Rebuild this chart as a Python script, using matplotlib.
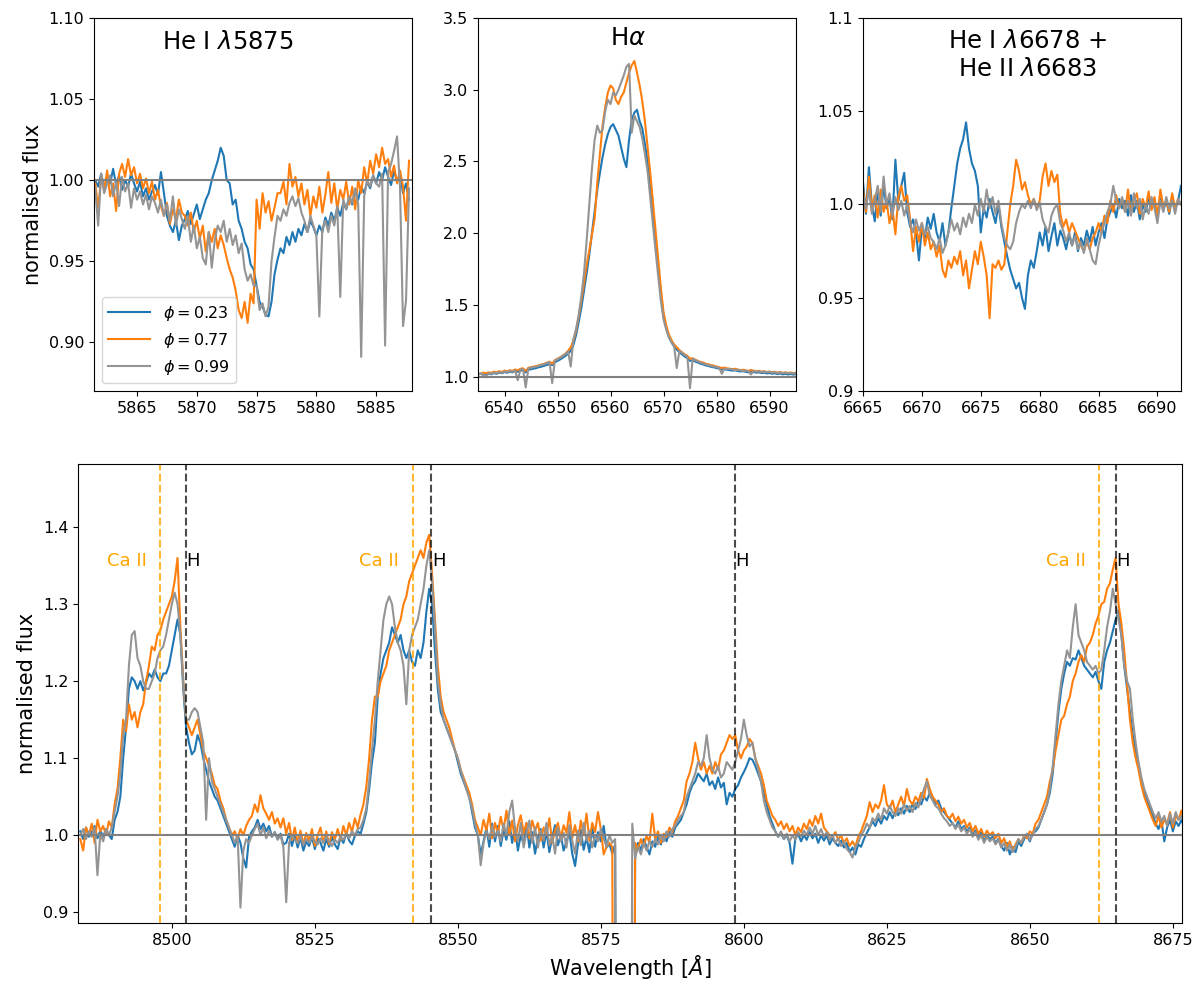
import numpy as np
from matplotlib import pyplot as plt

# colours of the three phases
cols = ['#1f77b4', '#ff7f0e', '#949494']
phases = ['$\\phi = 0.23$', '$\\phi = 0.77$', '$\\phi = 0.99$']

#%% He I 5875, grid 5861.5 + 0.25*i
he1_start, he1_step = 5861.5, 0.25
he1_b = [1.000, 0.996, 1.004, 0.995, 1.002, 0.998, 1.007, 0.997, 1.003, 0.994, 1.000, 0.996, 1.004, 0.998,
         0.993, 0.999, 0.990, 0.995, 0.988, 0.993, 0.997, 0.991,
         1.005, 0.992, 0.978, 0.972, 0.968, 0.975, 0.963, 0.972,
         0.976, 0.981, 0.973, 0.979, 0.985, 0.976, 0.982, 0.988,
         0.992, 1.000, 1.006, 1.012, 1.020, 1.015, 1.000, 0.998,
         0.985, 0.988, 0.975, 0.970, 0.962, 0.958, 0.948, 0.945,
         0.935, 0.925, 0.922, 0.917, 0.916, 0.925, 0.942, 0.951,
         0.958, 0.955, 0.965, 0.960, 0.968, 0.962, 0.970, 0.966,
         0.973, 0.968, 0.975, 0.971, 0.966, 0.972, 0.968, 0.977,
         0.972, 0.980, 0.975, 0.983, 0.978, 0.986, 0.982, 0.990,
         0.985, 0.993, 0.988, 0.996, 0.992, 0.999, 0.995, 1.003,
         0.998, 1.005, 1.000, 1.008, 1.002, 0.997, 1.006, 0.999,
         1.004, 0.992, 0.998, 0.988]
he1_o = [0.998, 0.983, 1.002, 0.994, 1.006, 0.990, 0.998, 0.981, 1.004, 1.010, 1.002, 1.013, 1.003, 1.008,
         0.998, 1.004, 0.995, 1.001, 0.992, 0.999, 0.988, 0.994,
         0.984, 0.978, 0.986, 0.973, 0.982, 0.976, 0.988, 0.980,
         0.978, 0.972, 0.980, 0.968, 0.975, 0.964, 0.972, 0.956,
         0.968, 0.962, 0.970, 0.958, 0.966, 0.960, 0.952, 0.945,
         0.940, 0.932, 0.920, 0.915, 0.925, 0.912, 0.930, 0.924,
         0.988, 0.970, 0.992, 0.980, 0.987, 0.975, 0.983, 0.992,
         0.992, 0.999, 0.985, 1.010, 0.996, 1.002, 0.990, 0.998,
         0.985, 0.994, 0.978, 0.990, 0.983, 0.996, 0.980, 0.991,
         1.005, 0.986, 0.998, 0.982, 0.994, 0.988, 0.999, 0.985,
         0.996, 0.982, 1.000, 0.992, 1.008, 0.998, 1.012, 1.004,
         1.016, 1.008, 1.020, 1.010, 1.013, 1.002, 1.009, 0.998,
         1.006, 0.996, 0.975, 1.012]
he1_g = [0.995, 0.972, 1.004, 0.992, 0.998, 1.003, 0.990, 0.999, 0.984, 1.002, 0.993, 0.998, 0.983, 0.995,
         0.988, 0.993, 0.985, 0.991, 0.982, 0.990, 0.986, 0.980,
         0.988, 0.978, 0.985, 0.975, 0.990, 0.972, 0.982, 0.976,
         0.970, 0.978, 0.962, 0.972, 0.958, 0.965, 0.952, 0.948,
         0.968, 0.946, 0.963, 0.972, 0.968, 0.975, 0.962, 0.970,
         0.960, 0.966, 0.955, 0.961, 0.945, 0.938, 0.942, 0.935,
         0.935, 0.920, 0.924, 0.916, 0.922, 0.950, 0.965, 0.978,
         0.975, 0.982, 0.978, 0.986, 0.990, 0.984, 0.989, 0.980,
         0.975, 0.968, 0.978, 0.972, 0.966, 0.916, 0.970, 0.975,
         0.968, 0.978, 0.972, 0.984, 0.928, 0.988, 0.982, 0.990,
         0.986, 0.995, 0.985, 0.891, 0.990, 1.000, 0.996, 1.003,
         0.998, 0.996, 1.004, 0.898, 1.005, 1.010, 1.018, 1.027,
         0.995, 0.910, 0.926, 0.995]

#%% H alpha, grid 6535 + 0.5*i
ha_start, ha_step = 6535.0, 0.5
ha_b = [1.015, 1.020, 1.012, 1.018, 1.022, 1.016, 1.025, 1.020, 1.028, 1.024,
        1.032, 1.027, 1.035, 1.030, 1.040, 1.034, 1.042, 1.045, 1.030, 1.048,
        1.052, 1.056, 1.060, 1.066, 1.070, 1.076, 1.082, 1.088, 1.080, 1.100,
        1.110, 1.120, 1.132, 1.145, 1.160, 1.180, 1.220, 1.290, 1.380, 1.480,
        1.600, 1.720, 1.850, 2.000, 2.150, 2.300, 2.420, 2.530, 2.620, 2.690,
        2.740, 2.760, 2.720, 2.680, 2.600, 2.520, 2.460, 2.650, 2.790, 2.840,
        2.860, 2.780, 2.730, 2.620, 2.500, 2.310, 2.110, 1.930, 1.760, 1.580,
        1.420, 1.340, 1.280, 1.240, 1.210, 1.190, 1.170, 1.155, 1.140, 1.130,
        1.110, 1.115, 1.105, 1.098, 1.090, 1.085, 1.078, 1.074, 1.068, 1.065,
        1.060, 1.056, 1.050, 1.052, 1.048, 1.045, 1.042, 1.044, 1.040, 1.036,
        1.038, 1.034, 1.030, 1.036, 1.032, 1.028, 1.030, 1.025, 1.028, 1.022,
        1.026, 1.020, 1.024, 1.018, 1.022, 1.016, 1.020, 1.015, 1.019, 1.014,
        1.018]
ha_o = [1.022, 1.018, 1.028, 1.024, 1.030, 1.026, 1.035, 1.030, 1.038, 1.033,
        1.042, 1.036, 1.045, 1.040, 1.050, 1.044, 1.055, 1.058, 1.040, 1.062,
        1.066, 1.070, 1.074, 1.080, 1.085, 1.090, 1.097, 1.104, 1.090, 1.115,
        1.125, 1.135, 1.148, 1.160, 1.180, 1.205, 1.250, 1.320, 1.420, 1.530,
        1.650, 1.780, 1.880, 1.990, 2.100, 2.350, 2.550, 2.750, 2.880, 2.980,
        3.030, 3.010, 2.930, 2.900, 2.950, 2.980, 3.050, 3.120, 3.170, 3.200,
        3.120, 3.030, 2.920, 2.780, 2.600, 2.420, 2.220, 2.020, 1.820, 1.620,
        1.450, 1.360, 1.295, 1.255, 1.225, 1.205, 1.185, 1.170, 1.155, 1.145,
        1.125, 1.128, 1.118, 1.110, 1.102, 1.098, 1.090, 1.086, 1.080, 1.076,
        1.070, 1.066, 1.060, 1.063, 1.058, 1.055, 1.052, 1.055, 1.050, 1.046,
        1.048, 1.044, 1.040, 1.046, 1.042, 1.038, 1.040, 1.035, 1.038, 1.032,
        1.036, 1.030, 1.034, 1.028, 1.032, 1.026, 1.030, 1.025, 1.029, 1.024,
        1.028]
ha_g = [1.018, 1.022, 1.016, 0.995, 1.025, 1.019, 1.028, 1.023, 1.031, 1.027,
        1.036, 1.030, 1.040, 1.034, 1.044, 0.975, 1.050, 1.052, 0.925, 1.058,
        1.062, 1.066, 1.070, 1.076, 1.082, 1.087, 1.094, 1.100, 0.955, 1.112,
        1.122, 1.132, 1.145, 1.158, 1.175, 1.070, 1.260, 1.330, 1.430, 1.560,
        1.720, 1.950, 2.200, 2.450, 2.650, 2.750, 2.700, 2.720, 2.850, 2.930,
        2.900, 2.980, 2.960, 3.000, 3.050, 3.100, 3.160, 3.180, 2.700, 2.820,
        2.780, 2.740, 2.660, 2.550, 2.430, 2.250, 2.060, 1.880, 1.700, 1.530,
        1.400, 1.330, 1.275, 1.240, 1.215, 1.060, 1.180, 1.165, 1.150, 1.138,
        0.920, 1.125, 1.115, 1.106, 1.098, 1.092, 1.085, 1.080, 1.074, 1.070,
        1.066, 1.062, 1.020, 1.056, 1.052, 1.054, 1.050, 1.046, 1.048, 1.044,
        1.040, 1.042, 1.038, 1.015, 1.040, 1.034, 1.037, 1.032, 1.035, 1.030,
        1.033, 1.028, 1.031, 1.026, 1.029, 1.024, 1.028, 1.023, 1.026, 1.021,
        1.025]

#%% He I 6678 + He II 6683, grid 6665 + 0.25*i
he2_start, he2_step = 6665.0, 0.25
he2_b = [1.012, 0.995, 1.020, 1.000, 0.991, 1.008, 0.994, 1.010, 0.998, 1.003, 0.992, 1.024, 1.002, 1.010, 1.017, 0.996,
         0.988, 0.992, 0.985, 0.970, 0.988, 0.982, 0.993, 0.987,
         0.995, 0.985, 0.980, 0.990, 0.978, 0.985, 0.998, 1.010,
         1.022, 1.030, 1.035, 1.044, 1.030, 1.022, 1.018, 1.010,
         0.985, 0.998, 0.993, 1.003, 0.996, 0.990, 1.000, 0.988,
         0.980, 0.972, 0.965, 0.960, 0.955, 0.958, 0.950, 0.944,
         0.962, 0.970, 0.966, 0.975, 0.985, 0.978, 0.988, 0.975,
         0.983, 0.990, 0.978, 0.986, 0.982, 0.976, 0.984, 0.978,
         0.985, 0.975, 0.982, 0.978, 0.986, 0.980, 0.988, 0.978,
         0.985, 0.990, 0.982, 0.992, 0.996, 1.000, 0.993, 1.003,
         0.998, 1.002, 0.994, 1.005, 0.996, 1.002, 0.992, 1.000,
         0.996, 1.004, 0.998, 1.000, 0.994, 1.003, 0.997, 1.002,
         0.995, 1.004, 0.998, 1.002, 1.010]
he2_o = [1.008, 0.996, 1.015, 0.998, 1.005, 0.993, 1.008, 0.996, 1.002, 0.990, 0.998, 0.984, 1.004, 1.010, 1.002, 1.005,
         0.992, 0.975, 0.988, 0.980, 0.990, 0.978, 0.985, 0.976,
         0.980, 0.972, 0.978, 0.965, 0.961, 0.970, 0.966, 0.972,
         0.968, 0.975, 0.962, 0.970, 0.955, 0.965, 0.975, 0.968,
         0.980, 0.972, 0.962, 0.939, 0.968, 0.966, 0.970, 0.965,
         0.968, 0.985, 1.000, 1.010, 1.024, 1.018, 1.008, 1.012,
         1.005, 1.000, 1.003, 0.998, 1.002, 1.015, 1.022, 1.010,
         1.018, 1.012, 1.016, 0.995, 0.988, 0.992, 0.985, 0.990,
         0.986, 0.982, 0.978, 0.975, 0.980, 0.976, 0.982, 0.985,
         0.990, 0.985, 0.994, 0.990, 1.002, 0.996, 1.005, 0.998,
         1.003, 0.996, 1.008, 0.995, 1.002, 1.006, 0.995, 1.003,
         0.998, 1.007, 0.997, 1.004, 0.994, 1.008, 0.999, 1.002,
         0.996, 1.006, 0.998, 1.003, 1.000]
he2_g = [1.005, 0.998, 1.008, 0.995, 1.002, 1.010, 0.996, 1.015, 1.000, 1.006, 0.994, 1.004, 0.997, 1.002, 0.994, 1.000,
         0.990, 0.985, 0.992, 0.986, 0.990, 0.984, 0.988, 0.982,
         0.980, 0.976, 0.982, 0.974, 0.978, 0.985, 0.992, 0.986,
         0.990, 0.984, 0.993, 0.988, 0.995, 0.990, 1.000, 0.994,
         1.003, 0.996, 1.008, 0.998, 1.004, 0.995, 1.002, 0.990,
         0.982, 0.978, 0.976, 0.980, 0.990, 0.996, 1.000, 0.998,
         1.002, 0.998, 1.003, 0.997, 1.001, 0.992, 0.988, 0.985,
         0.994, 0.998, 1.000, 0.990, 0.986, 0.980, 0.985, 0.978,
         0.983, 0.976, 0.980, 0.974, 0.982, 0.976, 0.970, 0.968,
         0.978, 0.985, 0.990, 0.996, 1.000, 1.010, 1.002, 0.998,
         1.004, 0.996, 1.002, 0.994, 1.006, 0.998, 1.003, 0.992,
         1.000, 0.995, 1.004, 0.998, 0.990, 1.002, 0.996, 1.004,
         0.998, 1.002, 0.995, 1.003, 1.000]

#%% Ca II triplet / Paschen region, grid 8484 + 0.5*i, one row = 5 A
ca_start, ca_step = 8484.0, 0.5
ca_b = [1.005, 0.995, 1.010, 0.998, 1.004, 1.012, 0.996, 1.006, 0.998, 1.008,
        1.000, 0.995, 1.020, 1.030, 1.050, 1.100, 1.140, 1.190, 1.205, 1.200,
        1.190, 1.200, 1.188, 1.198, 1.210, 1.205, 1.215, 1.205, 1.200, 1.210,
        1.210, 1.220, 1.240, 1.260, 1.280, 1.260, 1.190, 1.140, 1.120, 1.105,
        1.110, 1.130, 1.120, 1.100, 1.085, 1.070, 1.060, 1.050, 1.045, 1.035,
        1.025, 1.015, 1.005, 0.995, 0.985, 1.000, 0.990, 0.970, 0.958, 0.998,
        1.005, 1.010, 1.020, 1.008, 1.015, 1.005, 1.012, 0.998, 1.004, 0.995,
        1.002, 0.988, 0.990, 1.002, 0.986, 1.000, 0.984, 0.997, 0.980, 0.992,
        0.986, 0.998, 0.982, 0.996, 0.990, 0.980, 0.995, 0.985, 0.998, 0.988,
        0.982, 0.997, 0.990, 1.003, 0.993, 0.988, 0.999, 1.005, 1.002, 1.015,
        1.030, 1.060, 1.095, 1.120, 1.180, 1.210, 1.230, 1.240, 1.250, 1.270,
        1.260, 1.250, 1.260, 1.240, 1.230, 1.240, 1.225, 1.220, 1.240, 1.230,
        1.250, 1.290, 1.320, 1.300, 1.240, 1.190, 1.160, 1.150, 1.140, 1.130,
        1.120, 1.110, 1.095, 1.080, 1.070, 1.060, 1.050, 1.030, 1.010, 1.000,
        0.975, 0.992, 1.010, 0.985, 1.015, 0.992, 1.012, 0.986, 1.006, 0.994,
        1.018, 0.990, 1.010, 0.980, 1.000, 0.989, 1.016, 0.984, 1.004, 0.976,
        0.997, 1.008, 0.984, 1.005, 0.978, 0.997, 1.013, 0.987, 1.000, 0.980,
        0.992, 1.004, 0.976, 0.960, 0.988, 1.007, 0.981, 0.997, 0.978, 1.010,
        0.985, 1.004, 0.992, 1.012, 0.984, 0.989, 0.976, 0.988, 0.000, 0.000,
        0.000, 0.000, 0.000, 0.000, 0.975, 0.990, 0.980, 0.995, 0.985, 0.975,
        0.992, 0.985, 0.998, 0.988, 1.000, 0.992, 1.005, 0.998, 1.010, 1.015,
        1.020, 1.030, 1.040, 1.055, 1.065, 1.070, 1.080, 1.075, 1.070, 1.080,
        1.065, 1.070, 1.060, 1.075, 1.062, 1.068, 1.040, 1.055, 1.050, 1.060,
        1.065, 1.075, 1.082, 1.090, 1.100, 1.098, 1.090, 1.080, 1.070, 1.055,
        1.040, 1.025, 1.015, 1.005, 0.998, 1.002, 0.995, 1.000, 0.990, 0.963,
        0.995, 1.002, 0.992, 1.000, 0.994, 1.004, 0.996, 1.002, 0.990, 1.000,
        0.993, 1.000, 0.988, 0.996, 0.990, 0.986, 0.993, 0.984, 0.990, 0.978,
        0.984, 0.975, 0.988, 0.985, 0.995, 1.003, 1.010, 1.018, 1.012, 1.022,
        1.015, 1.025, 1.020, 1.030, 1.022, 1.032, 1.026, 1.035, 1.028, 1.038,
        1.030, 1.040, 1.034, 1.045, 1.040, 1.050, 1.045, 1.055, 1.048, 1.040,
        1.045, 1.035, 1.030, 1.025, 1.020, 1.015, 1.010, 1.018, 1.008, 1.012,
        1.005, 1.010, 1.000, 1.006, 0.996, 1.004, 0.992, 1.000, 0.995, 0.998,
        0.990, 0.995, 0.986, 0.980, 0.990, 0.975, 0.985, 0.978, 0.992, 0.986,
        0.995, 1.000, 0.992, 1.003, 1.005, 1.010, 1.020, 1.030, 1.040, 1.055,
        1.080, 1.120, 1.160, 1.190, 1.210, 1.225, 1.220, 1.230, 1.228, 1.240,
        1.230, 1.220, 1.215, 1.210, 1.205, 1.212, 1.200, 1.190, 1.225, 1.240,
        1.250, 1.265, 1.280, 1.292, 1.260, 1.220, 1.190, 1.160, 1.130, 1.110,
        1.090, 1.070, 1.055, 1.045, 1.035, 1.025, 1.015, 1.008, 1.020, 0.992,
        1.010, 1.020, 1.005, 1.018, 1.012, 1.020, 1.010, 1.015, 1.010, 1.012]
ca_o = [0.995, 0.980, 1.010, 1.000, 1.015, 0.990, 1.020, 1.005, 1.012, 1.000,
        1.018, 1.010, 1.040, 1.060, 1.100, 1.150, 1.135, 1.170, 1.150, 1.160,
        1.140, 1.160, 1.170, 1.200, 1.220, 1.245, 1.240, 1.260, 1.266, 1.280,
        1.290, 1.300, 1.310, 1.330, 1.360, 1.270, 1.200, 1.150, 1.140, 1.130,
        1.140, 1.150, 1.130, 1.110, 1.100, 1.090, 1.080, 1.065, 1.060, 1.045,
        1.035, 1.020, 1.010, 1.000, 1.005, 0.995, 1.008, 1.000, 1.012, 1.020,
        1.025, 1.040, 1.030, 1.052, 1.035, 1.028, 1.020, 1.030, 1.015, 1.022,
        1.010, 1.022, 1.002, 1.016, 0.994, 1.010, 0.990, 1.006, 0.988, 1.003,
        0.992, 1.008, 0.986, 1.000, 1.010, 0.990, 1.005, 0.988, 1.004, 0.994,
        1.008, 0.994, 1.012, 1.000, 1.016, 1.004, 1.022, 1.010, 1.027, 1.040,
        1.063, 1.100, 1.150, 1.180, 1.180, 1.200, 1.210, 1.220, 1.240, 1.250,
        1.260, 1.270, 1.280, 1.300, 1.310, 1.330, 1.340, 1.350, 1.360, 1.370,
        1.360, 1.380, 1.390, 1.340, 1.280, 1.220, 1.180, 1.160, 1.150, 1.140,
        1.125, 1.110, 1.100, 1.085, 1.075, 1.065, 1.055, 1.040, 1.020, 1.010,
        1.000, 1.020, 1.006, 1.028, 0.996, 1.016, 1.002, 1.024, 1.007, 1.032,
        1.000, 1.019, 0.992, 1.013, 1.026, 1.003, 1.016, 0.996, 1.019, 1.006,
        1.016, 0.993, 1.010, 1.000, 1.022, 0.990, 1.006, 1.016, 0.996, 1.013,
        1.003, 1.030, 0.996, 1.013, 0.992, 1.019, 1.000, 1.028, 0.993, 1.016,
        1.004, 1.030, 1.008, 0.975, 0.985, 0.990, 0.985, 0.000, 0.000, 0.000,
        0.000, 0.000, 0.000, 0.000, 0.990, 0.982, 0.995, 0.985, 1.000, 0.990,
        1.028, 0.995, 1.005, 0.990, 1.002, 0.998, 1.010, 1.004, 1.018, 1.025,
        1.035, 1.045, 1.070, 1.080, 1.095, 1.120, 1.100, 1.085, 1.095, 1.080,
        1.090, 1.080, 1.095, 1.085, 1.105, 1.110, 1.120, 1.130, 1.125, 1.130,
        1.110, 1.100, 1.110, 1.115, 1.125, 1.120, 1.100, 1.090, 1.080, 1.065,
        1.045, 1.035, 1.025, 1.020, 1.012, 1.018, 1.008, 1.015, 1.005, 1.012,
        1.000, 1.010, 1.004, 1.015, 1.008, 1.020, 1.012, 1.025, 1.015, 1.028,
        1.010, 1.005, 1.000, 0.998, 1.004, 0.994, 1.000, 0.990, 0.996, 0.986,
        0.992, 0.985, 0.998, 1.005, 1.015, 1.025, 1.043, 1.030, 1.040, 1.035,
        1.045, 1.065, 1.040, 1.035, 1.045, 1.030, 1.040, 1.050, 1.038, 1.060,
        1.045, 1.040, 1.050, 1.044, 1.055, 1.048, 1.073, 1.060, 1.050, 1.045,
        1.040, 1.030, 1.035, 1.025, 1.022, 1.028, 1.018, 1.024, 1.015, 1.020,
        1.010, 1.016, 1.005, 1.012, 1.002, 1.008, 0.998, 1.006, 1.000, 1.004,
        0.996, 1.002, 0.990, 0.996, 0.985, 0.992, 0.980, 0.988, 0.995, 0.990,
        1.000, 0.996, 1.005, 1.002, 1.015, 1.020, 1.030, 1.040, 1.050, 1.070,
        1.085, 1.110, 1.130, 1.150, 1.155, 1.170, 1.180, 1.200, 1.210, 1.225,
        1.234, 1.225, 1.245, 1.250, 1.260, 1.275, 1.285, 1.300, 1.303, 1.320,
        1.327, 1.345, 1.360, 1.300, 1.275, 1.240, 1.195, 1.150, 1.120, 1.100,
        1.085, 1.065, 1.050, 1.040, 1.030, 1.020, 1.012, 1.025, 1.010, 1.020,
        1.015, 1.030, 1.010, 1.025, 1.020, 1.032, 1.018, 1.025, 1.015, 1.020]
ca_g = [1.000, 1.008, 0.995, 1.005, 0.998, 1.010, 0.948, 1.002, 0.992, 1.008,
        1.000, 1.010, 1.030, 1.050, 1.080, 1.130, 1.150, 1.220, 1.260, 1.265,
        1.230, 1.220, 1.200, 1.190, 1.190, 1.200, 1.210, 1.230, 1.240, 1.245,
        1.260, 1.280, 1.300, 1.315, 1.300, 1.260, 1.200, 1.150, 1.150, 1.160,
        1.165, 1.160, 1.140, 1.120, 1.020, 1.100, 1.070, 1.060, 1.050, 1.040,
        1.030, 1.020, 1.010, 1.000, 0.990, 1.000, 0.906, 0.980, 0.995, 0.990,
        1.000, 1.008, 1.015, 1.000, 1.010, 0.996, 1.006, 0.998, 1.004, 0.994,
        1.000, 0.985, 0.913, 0.990, 1.000, 0.994, 0.990, 0.998, 0.988, 0.995,
        0.990, 0.998, 0.992, 0.988, 0.996, 0.990, 0.998, 0.992, 0.986, 0.994,
        0.990, 0.998, 0.994, 1.002, 0.996, 1.005, 1.000, 1.008, 1.010, 1.020,
        1.035, 1.070, 1.110, 1.150, 1.200, 1.240, 1.280, 1.300, 1.310, 1.300,
        1.270, 1.250, 1.240, 1.220, 1.170, 1.240, 1.260, 1.270, 1.280, 1.300,
        1.320, 1.350, 1.370, 1.330, 1.270, 1.200, 1.170, 1.150, 1.140, 1.130,
        1.120, 1.110, 1.100, 1.085, 1.072, 1.060, 1.048, 1.035, 1.015, 1.000,
        0.961, 0.990, 1.005, 0.995, 1.012, 0.998, 1.006, 0.992, 1.015, 1.000,
        1.030, 1.045, 1.008, 0.992, 1.016, 0.984, 1.003, 1.019, 0.990, 1.010,
        0.984, 1.006, 0.993, 1.016, 0.987, 1.000, 0.976, 1.010, 0.992, 1.003,
        0.984, 1.013, 0.993, 0.976, 1.006, 0.987, 1.016, 0.993, 1.006, 0.984,
        1.000, 0.992, 1.008, 0.996, 0.985, 1.000, 0.990, 0.995, 0.000, 0.000,
        0.000, 0.000, 0.000, 1.015, 0.970, 0.985, 0.975, 0.990, 0.980, 0.992,
        0.985, 0.995, 0.988, 1.000, 0.992, 1.005, 0.998, 1.008, 1.012, 1.020,
        1.025, 1.030, 1.050, 1.060, 1.070, 1.080, 1.095, 1.090, 1.100, 1.130,
        1.100, 1.085, 1.080, 1.090, 1.075, 1.080, 1.095, 1.090, 1.085, 1.095,
        1.110, 1.125, 1.150, 1.130, 1.115, 1.120, 1.100, 1.085, 1.070, 1.045,
        1.030, 1.020, 1.010, 1.005, 0.998, 1.005, 0.995, 1.002, 0.992, 1.000,
        0.994, 1.004, 0.998, 1.006, 1.000, 1.010, 1.002, 1.012, 1.000, 1.008,
        0.998, 1.004, 0.994, 1.000, 0.990, 0.996, 0.986, 0.992, 0.982, 0.978,
        0.971, 0.985, 0.990, 1.000, 1.006, 1.015, 1.010, 1.022, 1.018, 1.028,
        1.020, 1.035, 1.028, 1.038, 1.030, 1.025, 1.035, 1.028, 1.040, 1.032,
        1.038, 1.030, 1.042, 1.036, 1.048, 1.060, 1.070, 1.052, 1.045, 1.038,
        1.035, 1.028, 1.022, 1.018, 1.012, 1.016, 1.008, 1.014, 1.005, 1.010,
        1.002, 1.008, 0.998, 1.004, 0.994, 1.000, 0.990, 0.998, 0.992, 0.996,
        0.988, 0.994, 0.984, 0.990, 0.980, 0.988, 0.978, 0.985, 0.995, 0.990,
        0.998, 1.002, 0.994, 1.000, 1.008, 1.012, 1.020, 1.030, 1.040, 1.060,
        1.090, 1.130, 1.170, 1.200, 1.220, 1.240, 1.230, 1.270, 1.300, 1.260,
        1.250, 1.240, 1.225, 1.220, 1.215, 1.220, 1.210, 1.215, 1.240, 1.270,
        1.290, 1.320, 1.300, 1.280, 1.260, 1.220, 1.200, 1.190, 1.150, 1.120,
        1.095, 1.075, 1.060, 1.050, 1.040, 1.030, 1.022, 1.030, 1.018, 1.025,
        1.012, 1.028, 1.015, 1.030, 1.020, 1.025, 1.015, 1.022, 1.018, 1.020]

# line positions (Angstrom)
ca_lines = [8498.02, 8542.09, 8662.14]
h_lines = [8502.48, 8545.38, 8598.39, 8665.02]


def wgrid(start, step, flux):
    return start + step*np.arange(len(flux))


fig = plt.figure(figsize=(12, 9.96), dpi=100)
ax1 = fig.add_axes([94/1200, 1-391/996, 318/1200, 373/996])
ax2 = fig.add_axes([478/1200, 1-391/996, 318/1200, 373/996])
ax3 = fig.add_axes([863/1200, 1-391/996, 318/1200, 373/996])
ax4 = fig.add_axes([78/1200, 1-923/996, 1104/1200, 459/996])

# top left: He I 5875
for f, c, lab in zip([he1_b, he1_o, he1_g], cols, phases):
    ax1.plot(wgrid(he1_start, he1_step, f), f, color=c, lw=1.5, label=lab)
ax1.axhline(1.0, color='grey', lw=1.5)
ax1.set_xlim(5861.4, 5888.0)
ax1.set_ylim(0.87, 1.10)
ax1.set_xticks([5865, 5870, 5875, 5880, 5885])
ax1.set_yticks([0.90, 0.95, 1.00, 1.05, 1.10])
ax1.set_ylabel('normalised flux', fontsize=15)
ax1.text(0.421, 0.936, 'He I $\\lambda$5875', transform=ax1.transAxes,
         ha='center', va='center', fontsize=17.5)
ax1.legend(loc='lower left', fontsize=11.5, handlelength=2.6)

# top middle: H alpha
for f, c in zip([ha_b, ha_o, ha_g], cols):
    ax2.plot(wgrid(ha_start, ha_step, f), f, color=c, lw=1.5)
ax2.axhline(1.0, color='grey', lw=1.5)
ax2.set_xlim(6535, 6595)
ax2.set_ylim(0.9, 3.5)
ax2.set_xticks(np.arange(6540, 6591, 10))
ax2.set_yticks([1.0, 1.5, 2.0, 2.5, 3.0, 3.5])
ax2.text(0.472, 0.946, 'H$\\alpha$', transform=ax2.transAxes,
         ha='center', va='center', fontsize=17.5)

# top right: He I 6678 + He II 6683
for f, c in zip([he2_b, he2_o, he2_g], cols):
    ax3.plot(wgrid(he2_start, he2_step, f), f, color=c, lw=1.5)
ax3.axhline(1.0, color='grey', lw=1.5)
ax3.set_xlim(6665, 6692)
ax3.set_ylim(0.9, 1.1)
ax3.set_xticks([6665, 6670, 6675, 6680, 6685, 6690])
ax3.set_yticks([0.9, 0.95, 1.0, 1.05, 1.1])
ax3.set_yticklabels(['0.9', '0.95', '1.0', '1.05', '1.1'])
ax3.text(0.517, 0.90, 'He I $\\lambda$6678 +\nHe II $\\lambda$6683', transform=ax3.transAxes,
         ha='center', va='center', fontsize=17.5, multialignment='center')

# bottom: Ca II triplet + Paschen lines
for f, c in zip([ca_b, ca_o, ca_g], cols):
    ax4.plot(wgrid(ca_start, ca_step, f), f, color=c, lw=1.5)
ax4.axhline(1.0, color='grey', lw=1.5)
for ca in ca_lines:
    ax4.axvline(ca, color='orange', ls='--', lw=1.5, alpha=0.8)
    ax4.text(ca - 2.4, 1.35, 'Ca II', color='orange', ha='right', fontsize=13)
for h in h_lines:
    ax4.axvline(h, color='k', ls='--', lw=1.5, alpha=0.7)
    ax4.text(h + 0.1, 1.35, 'H', color='k', ha='left', fontsize=13)
ax4.set_xlim(8483.6, 8676.6)
ax4.set_ylim(0.886, 1.482)
ax4.set_xticks(np.arange(8500, 8676, 25))
ax4.set_yticks([0.9, 1.0, 1.1, 1.2, 1.3, 1.4])
ax4.set_xlabel('Wavelength [$\\AA$]', fontsize=15)
ax4.set_ylabel('normalised flux', fontsize=15)

for ax in [ax1, ax2, ax3, ax4]:
    ax.tick_params(labelsize=11.5)

fig.savefig('out.png', dpi=100)
